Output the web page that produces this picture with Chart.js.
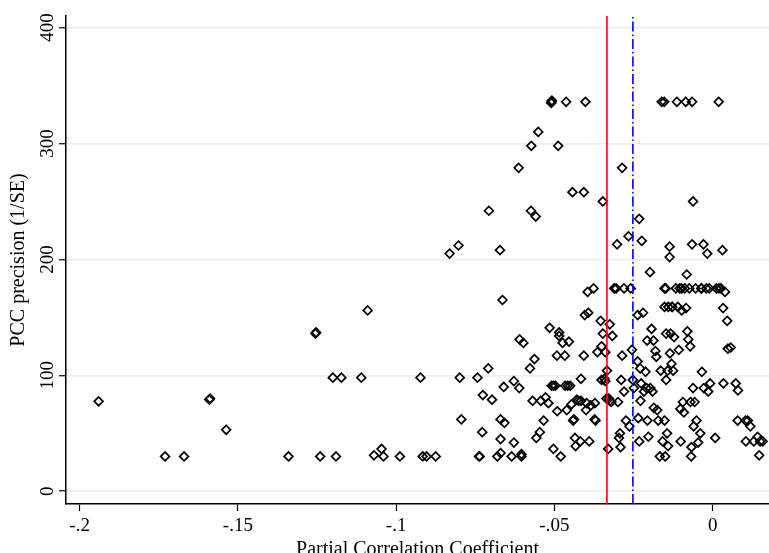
<!DOCTYPE html>
<html>
<head>
<meta charset="utf-8">
<script src="https://cdn.jsdelivr.net/npm/chart.js@4.4.1/dist/chart.umd.min.js"></script>
<style>
  html, body { margin: 0; padding: 0; background: #fff; overflow: hidden; }
  #wrap { width: 769px; height: 553px; }
</style>
</head>
<body>
<div id="wrap"><canvas id="funnel"></canvas></div>
<script>

// partial correlation coefficient of each estimate
var pcc = [
 -0.194,-0.173,-0.167,-0.159,-0.1588,-0.1537,-0.134,-0.1255,-0.1253,-0.124,-0.119,-0.12,-0.1173,-0.111,-0.109,
 -0.107,-0.1046,-0.104,-0.0988,-0.0923,-0.0916,-0.0904,-0.0875,-0.0831,-0.0803,-0.0799,-0.0794,-0.0743,-0.0738,-0.0736,
 -0.0728,-0.0726,-0.0707,-0.0709,-0.0697,-0.068,-0.0672,-0.067,-0.067,-0.067,-0.0664,-0.066,-0.0658,-0.0635,-0.0628,
 -0.0628,-0.0613,-0.0611,-0.061,-0.0604,-0.0598,-0.0604,-0.0573,-0.0574,-0.0559,-0.0551,-0.0577,-0.0563,-0.0569,-0.0557,
 -0.0546,-0.0543,-0.0534,-0.0528,-0.0519,-0.0509,-0.0508,-0.051,-0.0515,-0.0503,-0.0509,-0.0497,-0.0492,-0.0503,-0.0491,
 -0.0488,-0.0485,-0.0485,-0.048,-0.0474,-0.0467,-0.0466,-0.0463,-0.0458,-0.0454,-0.0461,-0.045,-0.0446,-0.0443,-0.0441,
 -0.0438,-0.0435,-0.0433,-0.0429,-0.0424,-0.0418,-0.0416,-0.0416,-0.0407,-0.0402,-0.0407,-0.0404,-0.04,-0.0398,-0.0395,
 -0.0393,-0.039,-0.0385,-0.0376,-0.0373,-0.037,-0.0372,-0.0364,-0.0354,-0.0351,-0.0347,-0.0351,-0.0347,-0.0342,-0.0339,
 -0.0339,-0.0336,-0.0334,-0.033,-0.0328,-0.0325,-0.0325,-0.0317,-0.032,-0.0311,-0.0305,-0.0302,-0.0296,-0.0293,-0.0299,
 -0.0291,-0.0286,-0.0289,-0.0286,-0.028,-0.028,-0.0274,-0.0266,-0.0263,-0.0259,-0.0255,-0.0252,-0.0249,-0.0237,-0.0232,
 -0.0237,-0.0235,-0.0232,-0.0229,-0.0228,-0.0226,-0.0224,-0.022,-0.0217,-0.0212,-0.0209,-0.0207,-0.0206,-0.0203,-0.0198,
 -0.0197,-0.0193,-0.0187,-0.019,-0.0186,-0.0181,-0.0178,-0.0175,-0.0172,-0.0167,-0.0164,-0.0161,-0.0158,-0.0153,-0.0152,
 -0.0148,-0.0152,-0.0152,-0.015,-0.0147,-0.0147,-0.0144,-0.0141,-0.014,-0.0136,-0.0136,-0.0135,-0.0133,-0.013,-0.0128,
 -0.0125,-0.0122,-0.0116,-0.0113,-0.011,-0.0107,-0.0104,-0.0102,-0.0101,-0.0098,-0.0094,-0.0091,-0.0088,-0.0085,-0.0084,
 -0.0082,-0.008,-0.0077,-0.0074,-0.0071,-0.007,-0.0068,-0.0067,-0.0065,-0.0065,-0.0062,-0.0062,-0.006,-0.0057,-0.0054,
 -0.0051,-0.0046,-0.0039,-0.0036,-0.0034,-0.0029,-0.0028,-0.002,-0.0017,-0.0014,-0.0011,-0.0008,0.0008,0.0019,0.002,
 0.0026,0.0031,0.0033,0.0034,0.0039,0.0046,0.0048,0.0057,0.0073,0.008,0.0079,0.0104,0.0105,0.0111,0.0119,
 0.013,0.0142,0.0147,0.015,0.0158,-0.0128,-0.0098,-0.0035,0.0012,-0.0142
];

// precision (1/SE) of each estimate
var precision = [
 77.6,30,30,79,80,53,30,136,137,30,30,98,98,98,156,
 31,36.5,30,30,98,30,30,30,205,212,98,62,98,30,30,
 51,83,242,106,79,30,208,45,62,33,165,90,59,30,95,
 42,279,89,131,30,128,32,298,242,237,310,106,114,78,46,
 51,78,61,81,76,336,337,335,141,91,91,91,117,36.5,69,
 298,137,134,30,128,117,91,336,91,129,70,91,75,258,61,
 62,46,39,79,78,43,97,78,258,336,117,152,70,76,172,
 154,43,74,175,62,61,76,120,147,125,250,96,136,97,120,
 95,80,104,36.5,80,144,78,134,77,175,175,213,46,50,77,
 38,279,96,117,86,175,61,220,56,175,122,96,89,152,235,
 112,63,43,106,78,93,216,154,86,103,89,130,61,47,189,
 89,140,130,86,72,121,116,70,61,30,104,336,43,336,175,
 175,159,61,30,136,96,50,39,159,211,202,119,136,110,159,
 104,133,175,336,159,122,175,71,43,156,77,68,175,336,158,
 187,138,131,175,125,77,30,38,336,213,250,89,56,77,175,
 61,42,50,175,103,213,89,175,205,86,175,93,46,336,175,
 175,208,158,93,172,147,123,124,93,87,61,61,43,61,56,
 43,47,31,43,43,159,175,175,175,104
];

var xTicks = [-0.2, -0.15, -0.1, -0.05, 0];
var yTicks = [0, 100, 200, 300, 400];
var xRange = [-0.2043, 0.0178];
var yRange = [-11, 410];
var meanEffect = -0.0334;   // red solid line
var pet = -0.0252;          // blue dash-dot line

var points = [];
for (var i = 0; i < pcc.length; i++) {
    points.push({ x: pcc[i], y: precision[i] });
}

var serif = 'Liberation Serif, Times New Roman, serif';

function fmtTick(v) {
    if (v === 0) return '0';
    var s = String(Math.round(v * 100) / 100);
    return s.replace('0.', '.');
}

var ctx = document.getElementById('funnel').getContext('2d');
new Chart(ctx, {
    type: 'scatter',
    data: {
        datasets: [{
            type: 'line',
            data: [{ x: meanEffect, y: yRange[0] }, { x: meanEffect, y: yRange[1] }],
            borderColor: '#ff0000',
            borderWidth: 1.6,
            pointRadius: 0,
            order: 1
        }, {
            type: 'line',
            data: [{ x: pet, y: yRange[0] }, { x: pet, y: yRange[1] }],
            borderColor: '#0000ff',
            borderWidth: 1.6,
            borderDash: [10, 3, 1.5, 3],
            pointRadius: 0,
            order: 2
        }, {
            data: points,
            pointStyle: 'rectRot',
            pointRadius: 4.4,
            pointHoverRadius: 4.4,
            borderColor: '#000',
            borderWidth: 1.7,
            backgroundColor: 'rgba(0,0,0,0)',
            order: 3
        }]
    },
    options: {
        responsive: true,
        maintainAspectRatio: false,
        animation: false,
        layout: { autoPadding: false, padding: { top: 16, right: 0, left: 0, bottom: 0 } },
        plugins: { legend: { display: false }, tooltip: { enabled: false } },
        scales: {
            x: {
                type: 'linear',
                min: xRange[0],
                max: xRange[1],
                afterBuildTicks: function(scale) {
                    scale.ticks = xTicks.map(function(v) { return { value: v }; });
                },
                afterFit: function(scale) { scale.height = 49; },
                border: { display: true, color: '#000', width: 1.5 },
                grid: { drawOnChartArea: false, tickColor: '#000', tickLength: 7, tickWidth: 1.2 },
                ticks: {
                    color: '#000',
                    font: { family: serif, size: 19 },
                    padding: 4,
                    maxRotation: 0,
                    callback: function(v) { return fmtTick(v); }
                },
                title: {
                    display: true,
                    text: 'Partial Correlation Coefficient',
                    color: '#000',
                    font: { family: serif, size: 20, lineHeight: 1 },
                    padding: { top: 0, bottom: -7 }
                }
            },
            y: {
                type: 'linear',
                min: yRange[0],
                max: yRange[1],
                afterBuildTicks: function(scale) {
                    scale.ticks = yTicks.map(function(v) { return { value: v }; });
                },
                afterFit: function(scale) { scale.width = 66; },
                border: { display: true, color: '#000', width: 1.5 },
                grid: { color: '#e8f0f2', lineWidth: 1.5, tickColor: '#000', tickLength: 7, tickWidth: 1.2 },
                ticks: {
                    color: '#000',
                    font: { family: serif, size: 19 },
                    padding: -3,
                    minRotation: 90,
                    maxRotation: 90,
                    crossAlign: 'center',
                    callback: function(v) { return fmtTick(v); }
                },
                title: {
                    display: true,
                    text: 'PCC precision (1/SE)',
                    color: '#000',
                    font: { family: serif, size: 20, lineHeight: 1 },
                    padding: { top: 9, bottom: 0 }
                }
            }
        }
    }
});
</script>
</body>
</html>
